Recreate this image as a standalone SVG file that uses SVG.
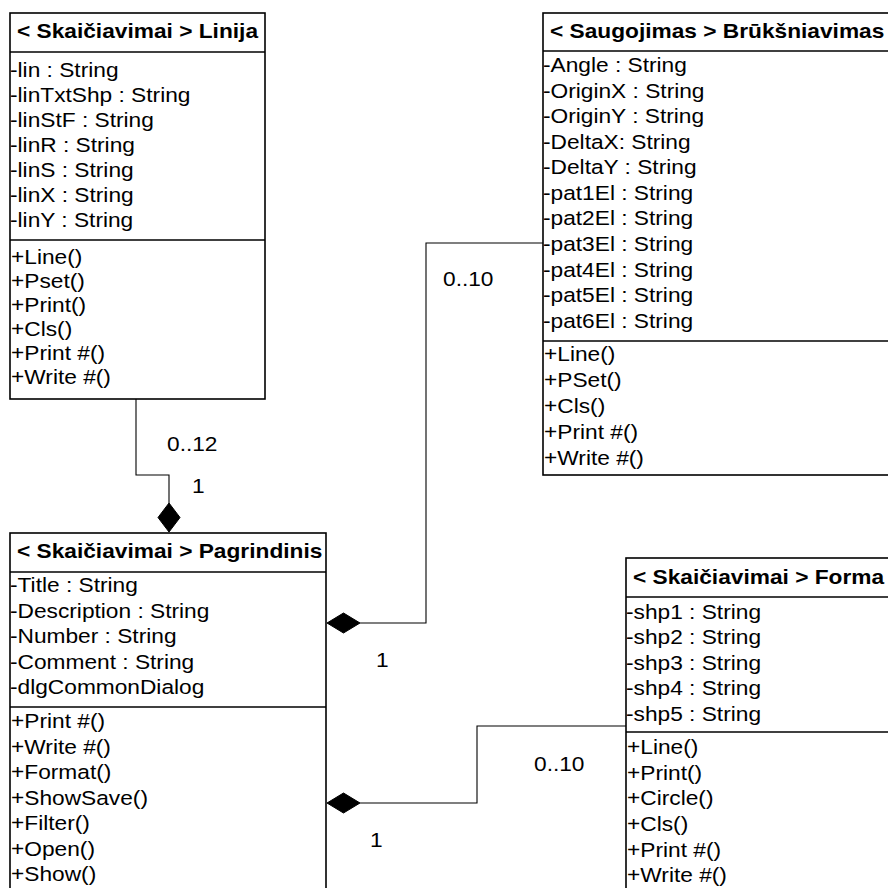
<svg xmlns="http://www.w3.org/2000/svg" width="888" height="888" viewBox="0 0 888 888">
<style>
.box{fill:#fff;stroke:#000;stroke-width:1.6}
.sep{stroke:#000;stroke-width:1.6}
.con{fill:none;stroke:#000;stroke-width:1.1}
.dia{fill:#000;stroke:#000;stroke-width:1}
text{font-family:"Liberation Sans",Arial,sans-serif;font-size:19.5px;fill:#000}
.h{font-weight:bold}
</style>
<rect width="888" height="888" fill="#fff"/>
<g id="connectors">
<path class="con" d="M136,399 V475 H169 V503"/>
<polygon class="dia" points="169,503 180,517.5 169,532 158,517.5"/>
<path class="con" d="M360,623 H426 V243 H543"/>
<polygon class="dia" points="327,623 343.5,613 360,623 343.5,633"/>
<path class="con" d="M360,803 H477 V726 H626"/>
<polygon class="dia" points="327,803 343.5,793 360,803 343.5,813"/>
<g transform="translate(167 0) scale(1.165 1)"><text x="0" y="451">0..12</text></g>
<g transform="translate(192 0) scale(1.165 1)"><text x="0" y="493">1</text></g>
<g transform="translate(443 0) scale(1.165 1)"><text x="0" y="286">0..10</text></g>
<g transform="translate(376 0) scale(1.165 1)"><text x="0" y="667">1</text></g>
<g transform="translate(534 0) scale(1.165 1)"><text x="0" y="771">0..10</text></g>
<g transform="translate(370 0) scale(1.165 1)"><text x="0" y="847">1</text></g>
</g>
<g id="linija">
<rect class="box" x="10" y="13" width="255" height="386"/>
<line class="sep" x1="10" y1="52" x2="265" y2="52"/>
<line class="sep" x1="10" y1="240" x2="265" y2="240"/>
<g transform="translate(10 0) scale(1.165 1)">
<text class="h" x="6" y="38.5">&lt; Skaičiavimai &gt; Linija</text>
<text x="0" y="77">-lin : String</text>
<text x="0" y="102">-linTxtShp : String</text>
<text x="0" y="127">-linStF : String</text>
<text x="0" y="152.5">-linR : String</text>
<text x="0" y="177.5">-linS : String</text>
<text x="0" y="202.5">-linX : String</text>
<text x="0" y="227.5">-linY : String</text>
<text x="0.9" y="264">+Line()</text>
<text x="0.9" y="288">+Pset()</text>
<text x="0.9" y="312">+Print()</text>
<text x="0.9" y="336">+Cls()</text>
<text x="0.9" y="360">+Print #()</text>
<text x="0.9" y="384">+Write #()</text>
</g>
</g>
<g id="bruksniavimas">
<rect class="box" x="543" y="13" width="360" height="462"/>
<line class="sep" x1="543" y1="51" x2="903" y2="51"/>
<line class="sep" x1="543" y1="341" x2="903" y2="341"/>
<g transform="translate(543 0) scale(1.165 1)">
<text class="h" x="6" y="38">&lt; Saugojimas &gt; Brūkšniavimas</text>
<text x="0" y="72.5">-Angle : String</text>
<text x="0" y="98">-OriginX : String</text>
<text x="0" y="123.5">-OriginY : String</text>
<text x="0" y="149">-DeltaX: String</text>
<text x="0" y="174.5">-DeltaY : String</text>
<text x="0" y="200">-pat1El : String</text>
<text x="0" y="225.5">-pat2El : String</text>
<text x="0" y="251">-pat3El : String</text>
<text x="0" y="277">-pat4El : String</text>
<text x="0" y="302.5">-pat5El : String</text>
<text x="0" y="328.5">-pat6El : String</text>
<text x="0.9" y="361">+Line()</text>
<text x="0.9" y="387">+PSet()</text>
<text x="0.9" y="413">+Cls()</text>
<text x="0.9" y="439">+Print #()</text>
<text x="0.9" y="465">+Write #()</text>
</g>
</g>
<g id="pagrindinis">
<rect class="box" x="10" y="533" width="316" height="370"/>
<line class="sep" x1="10" y1="572" x2="326" y2="572"/>
<line class="sep" x1="10" y1="707" x2="326" y2="707"/>
<g transform="translate(10 0) scale(1.165 1)">
<text class="h" x="6" y="558.5">&lt; Skaičiavimai &gt; Pagrindinis</text>
<text x="0" y="592">-Title : String</text>
<text x="0" y="618">-Description : String</text>
<text x="0" y="643.5">-Number : String</text>
<text x="0" y="669">-Comment : String</text>
<text x="0" y="694.5">-dlgCommonDialog</text>
<text x="0.9" y="728">+Print #()</text>
<text x="0.9" y="754">+Write #()</text>
<text x="0.9" y="779.5">+Format()</text>
<text x="0.9" y="805">+ShowSave()</text>
<text x="0.9" y="830.5">+Filter()</text>
<text x="0.9" y="856">+Open()</text>
<text x="0.9" y="881.5">+Show()</text>
</g>
</g>
<g id="forma">
<rect class="box" x="626" y="558" width="280" height="345"/>
<line class="sep" x1="626" y1="597" x2="906" y2="597"/>
<line class="sep" x1="626" y1="732" x2="906" y2="732"/>
<g transform="translate(626 0) scale(1.165 1)">
<text class="h" x="6" y="584">&lt; Skaičiavimai &gt; Forma</text>
<text x="0" y="619">-shp1 : String</text>
<text x="0" y="644.5">-shp2 : String</text>
<text x="0" y="670">-shp3 : String</text>
<text x="0" y="695.5">-shp4 : String</text>
<text x="0" y="721">-shp5 : String</text>
<text x="0.9" y="754">+Line()</text>
<text x="0.9" y="780">+Print()</text>
<text x="0.9" y="805.5">+Circle()</text>
<text x="0.9" y="831">+Cls()</text>
<text x="0.9" y="857">+Print #()</text>
<text x="0.9" y="882.5">+Write #()</text>
</g>
</g>
</svg>
